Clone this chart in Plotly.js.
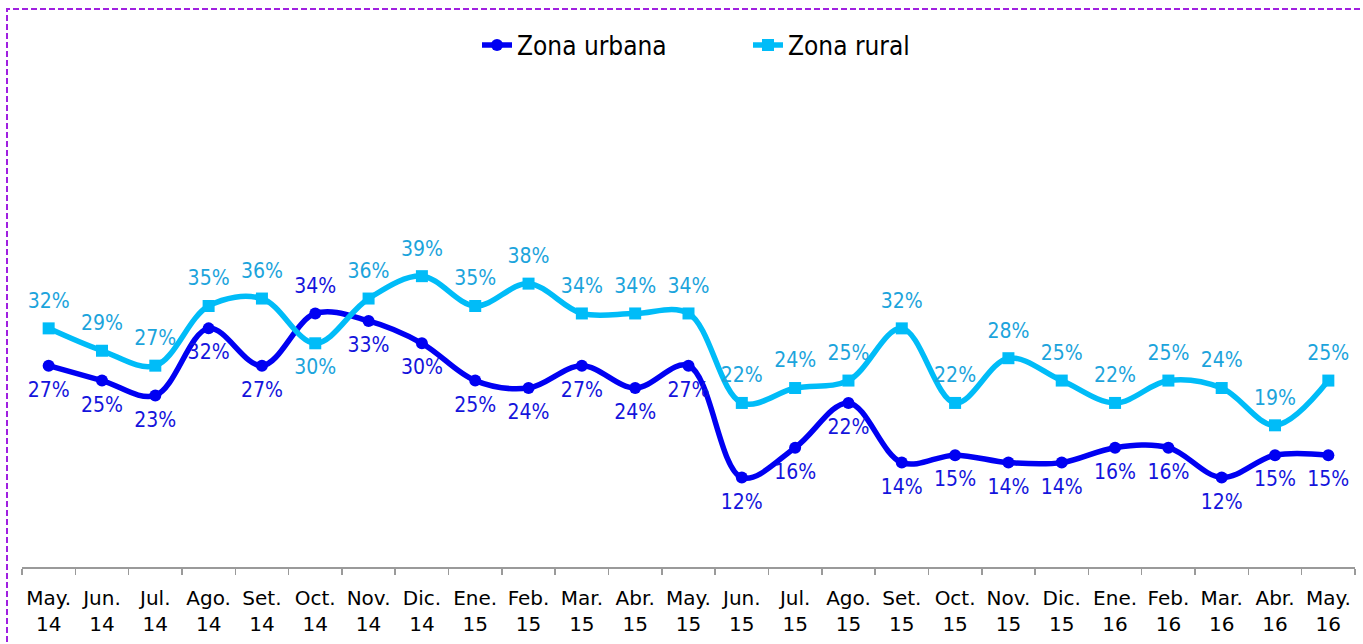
<!DOCTYPE html>
<html>
<head>
<meta charset="utf-8">
<script src="https://cdn.plot.ly/plotly-3.0.1.min.js"></script>
<style>
html,body{margin:0;padding:0;background:#fff;}
#chart{width:1363px;height:644px;}
</style>
</head>
<body>
<div id="chart"></div>
<script>
const months = ["May.","Jun.","Jul.","Ago.","Set.","Oct.","Nov.","Dic.","Ene.","Feb.","Mar.","Abr.","May.","Jun.","Jul.","Ago.","Set.","Oct.","Nov.","Dic.","Ene.","Feb.","Mar.","Abr.","May."];
const years = ["14","14","14","14","14","14","14","14","15","15","15","15","15","15","15","15","15","15","15","15","16","16","16","16","16"];
const urbana = [27,25,23,32,27,34,33,30,25,24,27,24,27,12,16,22,14,15,14,14,16,16,12,15,15];
const rural  = [32,29,27,35,36,30,36,39,35,38,34,34,34,22,24,25,32,22,28,25,22,25,24,19,25];

const cats = months.map((m,i)=>m+"<br>"+years[i]);
const urbanaPos = urbana.map((v,i)=> i===5 ? "top center" : "bottom center");
const ruralPos = rural.map((v,i)=> i===5 ? "bottom center" : "top center");

const FONT = "DejaVu Sans Condensed, DejaVu Sans, sans-serif";
const TICKFONT = "DejaVu Sans, sans-serif";
const C_URB = "#0000F2", C_RUR = "#00BCF8";

const traces = [
  {
    x: cats, y: urbana, name: "Zona urbana", type: "scatter", mode: "lines+markers",
    line: {color: C_URB, width: 5.5, shape: "spline", smoothing: 1},
    marker: {symbol: "circle", size: 12, color: C_URB}
  },
  {
    x: cats, y: rural, name: "Zona rural", type: "scatter", mode: "lines+markers",
    line: {color: C_RUR, width: 5.5, shape: "spline", smoothing: 1},
    marker: {symbol: "square", size: 12, color: C_RUR}
  },
  {
    x: cats, y: urbana, type: "scatter", mode: "markers+text", showlegend: false, hoverinfo: "skip",
    marker: {size: 23, color: C_URB, opacity: 0},
    text: urbana.map(v=>v+"%"), textposition: urbanaPos,
    textfont: {family: FONT, size: 21, color: "#1414DC"},
    cliponaxis: false
  },
  {
    x: cats, y: rural, type: "scatter", mode: "markers+text", showlegend: false, hoverinfo: "skip",
    marker: {size: 23, color: C_RUR, opacity: 0},
    text: rural.map(v=>v+"%"), textposition: ruralPos,
    textfont: {family: FONT, size: 21, color: "#1CA4DC"},
    cliponaxis: false
  }
];

const layout = {
  width: 1363, height: 644,
  margin: {l: 22, r: 8, t: 45, b: 77},
  paper_bgcolor: "#fff", plot_bgcolor: "#fff",
  showlegend: true,
  legend: {orientation: "h", x: (477-22)/1333, xanchor: "left", y: 1.0, yanchor: "middle",
           font: {family: FONT, size: 26, color: "#000"}, entrywidth: 226, entrywidthmode: "pixels",
           bgcolor: "rgba(0,0,0,0)"},
  xaxis: {
    type: "category", range: [-0.5, 24.5], autorange: false, tickangle: 0,
    tickson: "boundaries", ticks: "outside", ticklen: 6, tickcolor: "#9a9a9a", tickwidth: 1.5,
    showline: true, linecolor: "#9a9a9a", linewidth: 1.5, showgrid: false, zeroline: false,
    tickfont: {family: TICKFONT, size: 20, color: "#000"}, ticklabelstandoff: 12,
    fixedrange: true, automargin: false
  },
  yaxis: {range: [0, 70], visible: false, showgrid: false, zeroline: false, fixedrange: true},
  shapes: [{
    type: "rect", xref: "paper", yref: "paper",
    x0: (7-22)/1333, x1: (1400-22)/1333, y0: (567-700)/522, y1: (567-9)/522,
    line: {color: "#A020E0", width: 2, dash: "6px,3px"}, fillcolor: "rgba(0,0,0,0)", layer: "below"
  }]
};

Plotly.newPlot("chart", traces, layout, {displayModeBar: false, staticPlot: true});
</script>
</body>
</html>
